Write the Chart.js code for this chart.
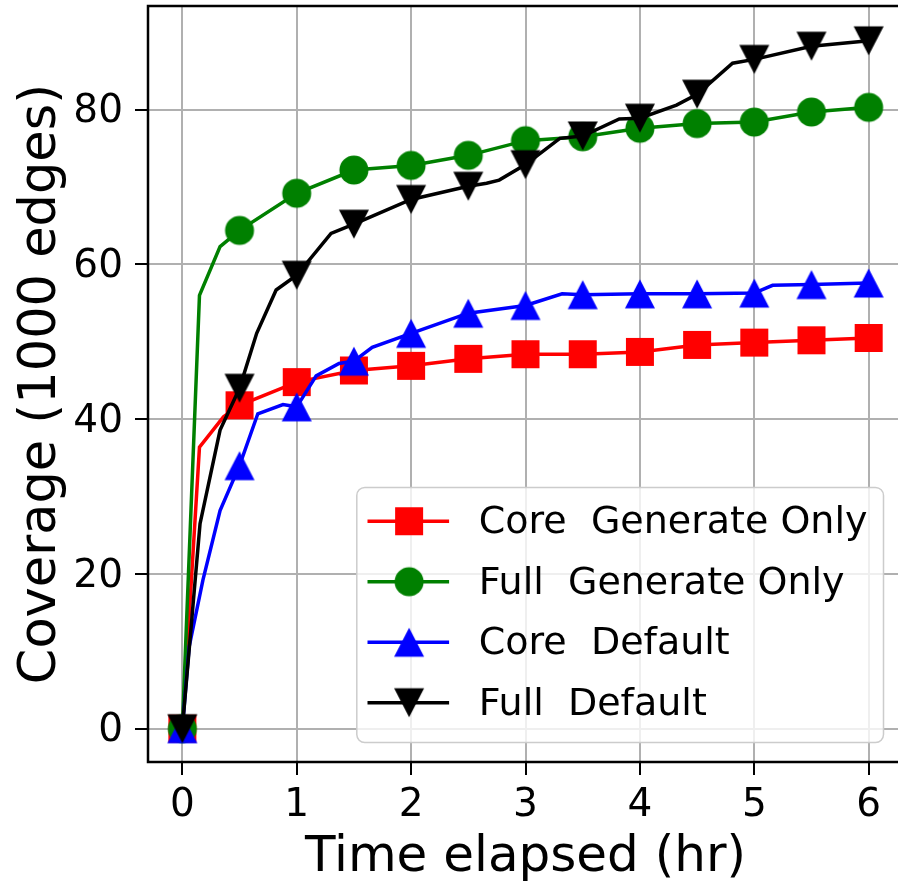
<!DOCTYPE html>
<html>
<head>
<meta charset="utf-8">
<script src="https://cdn.jsdelivr.net/npm/chart.js@4.4.1/dist/chart.umd.min.js"></script>
<style>
  html, body { margin: 0; padding: 0; background: #fff; overflow: hidden; }
  canvas { display: block; }
</style>
</head>
<body>
<canvas id="coverage" width="906" height="883"></canvas>
<script>
// values (time in hr, coverage in 1000 edges)
const seriesNames = ['Core  Generate Only', 'Full  Generate Only', 'Core  Default', 'Full  Default'];
const seriesColors = ['#ff0000', '#008000', '#0000ff', '#000000'];
const seriesMarkers = ['square', 'circle', 'up', 'down'];

const coreGenTime = [0, 0.15, 0.36, 0.5, 1, 1.5, 2, 2.5, 3, 3.5, 4, 4.5, 5, 5.5, 6];
const coreGenCov  = [0, 36.4, 40.3, 41.8, 44.8, 46.3, 46.9, 47.8, 48.4, 48.4, 48.7, 49.6, 49.9, 50.2, 50.5];

const fullGenTime = [0, 0.15, 0.33, 0.5, 1, 1.5, 2, 2.5, 3, 3.5, 4, 4.5, 5, 5.5, 6];
const fullGenCov  = [0, 56.0, 62.3, 64.4, 69.2, 72.2, 72.8, 74.1, 76.0, 76.5, 77.6, 78.2, 78.4, 79.7, 80.3];

const coreDefTime = [0, 0.06, 0.18, 0.33, 0.5, 0.66, 0.88, 1, 1.17, 1.37, 1.5, 1.66, 2, 2.5, 3, 3.32, 3.5, 4, 4.5, 5, 5.16, 5.5, 6];
const coreDefCov  = [0, 10.6, 19.2, 28.2, 34.0, 40.7, 41.9, 41.6, 45.6, 47.2, 47.5, 49.3, 51.1, 53.7, 54.7, 56.2, 56.1, 56.2, 56.2, 56.3, 57.3, 57.4, 57.6];

const fullDefTime = [0, 0.155, 0.33, 0.5, 0.65, 0.82, 1, 1.3, 1.5, 2, 2.5, 2.66, 2.77, 3, 3.3, 3.5, 3.82, 4, 4.32, 4.5, 4.81, 5, 5.5, 6];
const fullDefCov  = [0, 26.5, 38.6, 44.0, 51.1, 56.7, 58.6, 64.0, 65.2, 68.4, 70.1, 70.5, 70.9, 72.9, 76.3, 76.6, 78.8, 78.9, 80.6, 82.0, 86.0, 86.5, 88.2, 88.9];

const xTicks = [0, 1, 2, 3, 4, 5, 6];
const yTicks = [0, 20, 40, 60, 80];

const FONT = 'DejaVu Sans';

// matplotlib-like marker glyphs as small canvases
function makeMarker(shape, color) {
    const c = document.createElement('canvas');
    c.width = 32; c.height = 32;
    const g = c.getContext('2d');
    g.fillStyle = color;
    g.beginPath();
    if (shape === 'square') {
        g.rect(2, 2, 28, 28);
    } else if (shape === 'circle') {
        g.arc(16, 16, 14.5, 0, Math.PI * 2);
    } else if (shape === 'up') {
        g.moveTo(16, 1.5); g.lineTo(31, 30.5); g.lineTo(1, 30.5);
    } else {
        g.moveTo(1, 1.5); g.lineTo(31, 1.5); g.lineTo(16, 30.5);
    }
    g.closePath();
    g.fill();
    return c;
}

const markerImgs = seriesMarkers.map((m, i) => makeMarker(m, seriesColors[i]));

function makeSeries(i, times, values) {
    return {
        label: seriesNames[i],
        data: times.map((t, k) => ({x: t, y: values[k]})),
        borderColor: seriesColors[i],
        backgroundColor: seriesColors[i],
        borderWidth: 3.5,
        tension: 0,
        fill: false,
        pointStyle: markerImgs[i],
        // a marker every half hour, the line has finer samples
        pointRadius: ctx => (ctx.raw && Number.isInteger(ctx.raw.x * 2)) ? 15 : 0,
        pointHoverRadius: 0,
        order: 4 - i
    };
}

const frameAndLegend = {
    id: 'frameAndLegend',
    afterDatasetsDraw(chart) {
        const a = chart.chartArea;
        const ctx = chart.ctx;
        ctx.save();
        ctx.strokeStyle = '#000';
        ctx.lineWidth = 2.5;
        ctx.strokeRect(a.left, a.top, a.right - a.left, a.bottom - a.top);
        ctx.restore();
    },
    afterDraw(chart) {
        const a = chart.chartArea;
        const ctx = chart.ctx;
        ctx.save();
        ctx.font = '38px ' + FONT;
        const textW = Math.max(...seriesNames.map(s => ctx.measureText(s).width));
        const right = a.right - 19.5;
        const bottom = a.bottom - 19.5;
        const w = 122 + textW + 16;
        const h = 255;
        const left = right - w;
        const top = bottom - h;

        ctx.beginPath();
        ctx.roundRect(left, top, w, h, 8);
        ctx.fillStyle = 'rgba(255,255,255,0.8)';
        ctx.fill();
        ctx.strokeStyle = '#cccccc';
        ctx.lineWidth = 1.5;
        ctx.stroke();

        seriesNames.forEach((name, i) => {
            const cy = top + 33.7 + i * 60.5;
            ctx.strokeStyle = seriesColors[i];
            ctx.lineWidth = 3.5;
            ctx.beginPath();
            ctx.moveTo(left + 10.7, cy);
            ctx.lineTo(left + 92.3, cy);
            ctx.stroke();
            const img = markerImgs[i];
            ctx.drawImage(img, left + 52.3 - img.width / 2, cy - img.height / 2);
            ctx.fillStyle = '#000';
            ctx.textAlign = 'left';
            ctx.textBaseline = 'middle';
            ctx.fillText(name, left + 122, cy + 2);
        });
        ctx.restore();
    }
};

const ctx = document.getElementById('coverage').getContext('2d');

new Chart(ctx, {
    type: 'line',
    data: {
        datasets: [
            makeSeries(0, coreGenTime, coreGenCov),
            makeSeries(1, fullGenTime, fullGenCov),
            makeSeries(2, coreDefTime, coreDefCov),
            makeSeries(3, fullDefTime, fullDefCov)
        ]
    },
    options: {
        responsive: false,
        animation: false,
        devicePixelRatio: 1,
        layout: { autoPadding: false, padding: { top: 6, right: 3, bottom: 0, left: 0 } },
        plugins: {
            legend: { display: false },
            tooltip: { enabled: false }
        },
        scales: {
            x: {
                type: 'linear',
                min: -0.3,
                max: 6.3,
                afterBuildTicks: axis => { axis.ticks = xTicks.map(v => ({value: v})); },
                afterFit: axis => {
                    axis.height = 121;
                    axis.paddingLeft = 0;
                    axis.paddingRight = 0;
                },
                grid: { color: '#b0b0b0', lineWidth: 2, tickColor: '#000', tickLength: 13, tickWidth: 2 },
                border: { display: false },
                ticks: { font: { family: FONT, size: 39 }, color: '#000', padding: 7, maxRotation: 0 },
                title: {
                    display: true,
                    text: 'Time elapsed (hr)',
                    color: '#000',
                    font: { family: FONT, size: 50, lineHeight: 1 },
                    padding: { top: 0, bottom: 0 }
                }
            },
            y: {
                type: 'linear',
                min: -4.3,
                max: 93.4,
                afterBuildTicks: axis => { axis.ticks = yTicks.map(v => ({value: v})); },
                afterFit: axis => {
                    axis.width = 148;
                    axis.paddingTop = 0;
                    axis.paddingBottom = 0;
                },
                grid: { color: '#b0b0b0', lineWidth: 2, tickColor: '#000', tickLength: 13, tickWidth: 2 },
                border: { display: false },
                ticks: { font: { family: FONT, size: 39 }, color: '#000', padding: 12, labelOffset: 2.6 },
                title: {
                    display: true,
                    text: 'Coverage (1000 edges)',
                    color: '#000',
                    font: { family: FONT, size: 51, lineHeight: 1 },
                    padding: { top: 16, bottom: 0 }
                }
            }
        }
    },
    plugins: [frameAndLegend]
});
</script>
</body>
</html>
